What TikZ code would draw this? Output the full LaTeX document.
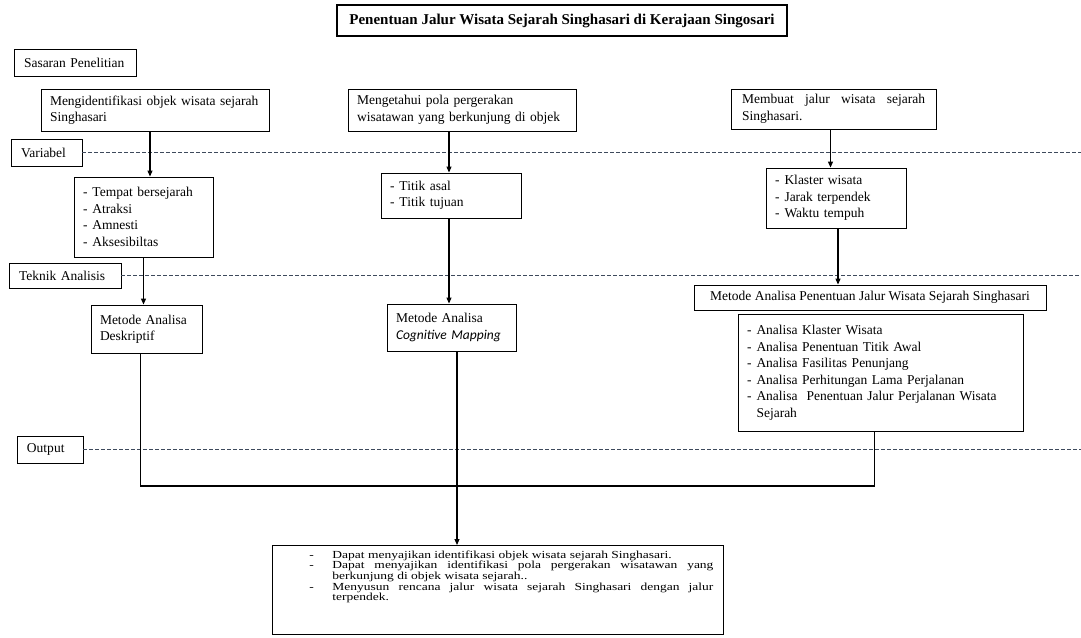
\documentclass[tikz,border=0pt]{standalone}
\usepackage{fontspec}
\setmainfont{Liberation Serif}
\newfontfamily\kogfont{Carlito}
\usepackage{graphicx}
\usetikzlibrary{arrows.meta}

\definecolor{garisputus}{RGB}{62,74,92}
\newcommand{\butir}{-\hspace{5pt}}

\tikzset{
  kotak/.style={draw, line width=0.9pt, inner xsep=9pt, inner ysep=0pt, align=left},
  baris/.style={kotak, inner xsep=10pt},
  putus/.style={draw=garisputus, line width=0.8pt, dash pattern=on 4pt off 2pt},
  panah/.style={line width=1.1pt, -{Triangle[length=6pt,width=5pt]}},
  garis/.style={line width=1.1pt},
}

\begin{document}
\begin{tikzpicture}[x=1pt, y=-1pt, every node/.style={font=\fontsize{13.5}{16.5}\selectfont}]
	\useasboundingbox (0,0) rectangle (1081,637);
	\coordinate (tepi) at (1081,0);

	% judul
	\node[kotak, align=center, line width=1.1pt, minimum width=450pt, minimum height=31pt, font=\fontsize{15}{18}\selectfont\bfseries] (judul) at (562,20.5) {Penentuan Jalur Wisata Sejarah Singhasari di Kerajaan Singosari};

	% label baris
	\node[baris, text width=102pt, minimum height=27pt] (sasaran) at (75,62.5) {Sasaran Penelitian};
	\node[baris, text width=51pt, minimum height=27pt] (variabel) at (46.5,152.5) {Variabel};
	\node[baris, text width=92pt, minimum height=25pt] (teknik) at (65,275.5) {Teknik Analisis};
	\node[baris, text width=46pt, minimum height=27pt] (output) at (50,449.5) {Output};

	\draw[putus] (variabel.east) -- (variabel.east -| tepi);
	\draw[putus] (teknik.east) -- (teknik.east -| tepi);
	\draw[putus] (output.east) -- (output.east -| tepi);

	% sasaran
	\node[kotak, text width=210pt, minimum height=42pt] (ident) at (155,110) {Mengidentifikasi objek wisata sejarah\\Singhasari};
	\node[kotak, text width=210pt, minimum height=42pt] (ketahui) at (462,110) {Mengetahui pola pergerakan\\wisatawan yang berkunjung di objek};
	\node[kotak, inner xsep=11pt, text width=183pt, minimum height=40pt] (buat) at (833.5,109) {Membuat\hfill jalur\hfill wisata\hfill sejarah\\Singhasari.};

	% variabel
	\node[kotak, text width=121pt, minimum height=80pt] (tempat) at (143.5,217) {\butir Tempat bersejarah\\\butir Atraksi\\\butir Amnesti\\\butir Aksesibiltas};
	\node[kotak, text width=122pt, minimum height=45pt] (titik) at (451,195.5) {\butir Titik asal\\\butir Titik tujuan};
	\node[kotak, text width=122pt, minimum height=60pt] (klaster) at (836,198) {\butir Klaster wisata\\\butir Jarak terpendek\\\butir Waktu tempuh};

	% teknik analisis
	\node[kotak, text width=93pt, minimum height=48pt] (desk) at (146.5,329) {Metode Analisa\\Deskriptif};
	\node[kotak, text width=111pt, minimum height=47pt] (kog) at (451.5,327.5) {Metode Analisa\\{\kogfont\itshape Cognitive Mapping}};
	\node[kotak, align=center, minimum width=352pt, minimum height=25pt] (metode) at (870,297.5) {Metode Analisa Penentuan Jalur Wisata Sejarah Singhasari};
	\node[kotak, text width=267pt, minimum height=117pt] (analisa) at (880.5,372.5) {\butir Analisa Klaster Wisata\\\butir Analisa Penentuan Titik Awal\\\butir Analisa Fasilitas Penunjang\\\butir Analisa Perhitungan Lama Perjalanan\\\butir Analisa\ \ Penentuan Jalur Perjalanan Wisata\\\hspace*{9.5pt}Sejarah};

	% output
	\node[kotak, anchor=north west, inner sep=0pt] (hasil) at (272,545) {\parbox[c][89pt][t]{451pt}{\fontsize{13.5}{13.3}\selectfont\vspace{5pt}\noindent\scalebox{1}[0.8]{\begin{tabular}{@{\hspace{37pt}}p{23pt}@{}p{381pt}@{}}
		- & Dapat menyajikan identifikasi objek wisata sejarah Singhasari.\\
		- & Dapat menyajikan identifikasi pola pergerakan wisatawan yang\linebreak berkunjung di objek wisata sejarah..\\
		- & Menyusun rencana jalur wisata sejarah Singhasari dengan jalur\linebreak terpendek.
	\end{tabular}}}};

	% panah
	\draw[panah] ([xshift=-5pt]ident.south) -- ([xshift=-5pt]ident.south |- tempat.north);
	\draw[panah] ([xshift=-2pt]titik.north |- ketahui.south) -- ([xshift=-2pt]titik.north);
	\draw[panah] ([xshift=-3pt]buat.south) -- ([xshift=-3pt]buat.south |- klaster.north);
	\draw[panah] (tempat.south) -- (tempat.south |- desk.north);
	\draw[panah] ([xshift=-2pt]titik.south) -- ([xshift=-2pt]titik.south |- kog.north);
	\draw[panah] ([xshift=2pt]klaster.south) -- ([xshift=2pt]klaster.south |- metode.north);
	\coordinate (sambung) at (457,486);
	\draw[garis] ([xshift=-6pt]desk.south) |- (sambung) -| ([xshift=-6pt]analisa.south);
	\draw[panah] ([xshift=5.5pt]kog.south) -- ([xshift=5.5pt]kog.south |- hasil.north);
\end{tikzpicture}
\end{document}
